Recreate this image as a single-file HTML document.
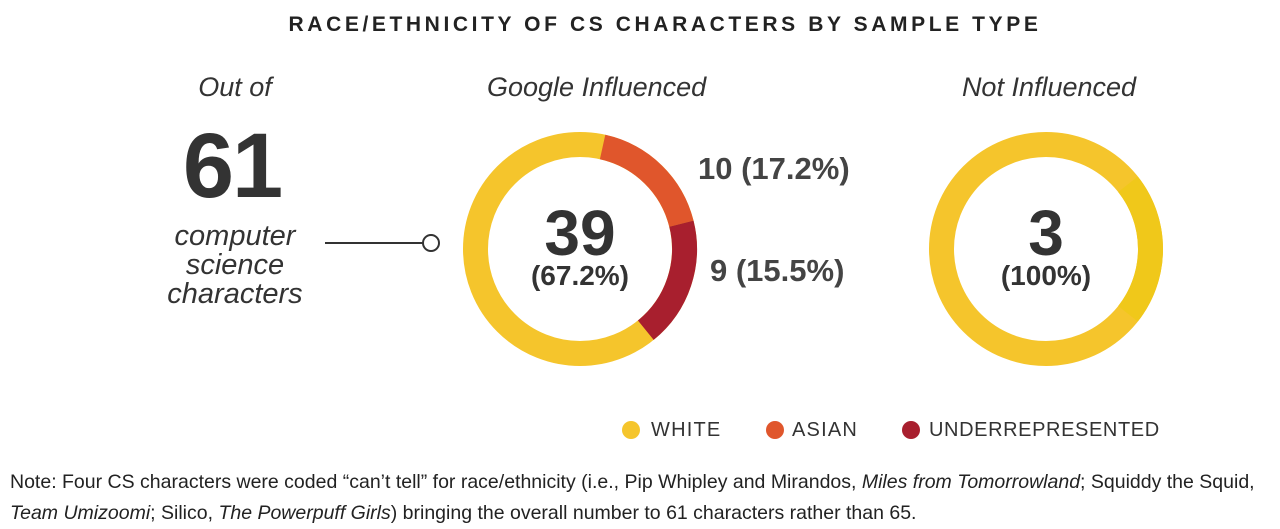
<!DOCTYPE html>
<html><head><style>
body{margin:0;width:1280px;height:527px;background:#fff;font-family:"Liberation Sans",sans-serif;position:relative;overflow:hidden;color:#333}
.t{position:absolute;white-space:nowrap}
</style></head><body>
<div class="t" style="left:0;width:1330px;text-align:center;top:13px;font-size:21px;font-weight:bold;letter-spacing:3.6px;color:#222">RACE/ETHNICITY OF CS CHARACTERS BY SAMPLE TYPE</div>
<div class="t" style="left:135px;width:200px;text-align:center;top:72px;font-size:27px;font-style:italic;color:#333">Out of</div>
<div class="t" style="left:132px;width:200px;text-align:center;top:114px;font-size:92px;font-weight:bold;color:#333;letter-spacing:-2px">61</div>
<div class="t" style="left:135px;width:200px;text-align:center;top:222px;font-size:29px;font-style:italic;line-height:29px;color:#333">computer<br>science<br>characters</div>
<div class="t" style="left:487px;width:200px;text-align:center;top:72px;font-size:27px;font-style:italic;color:#333">Google Influenced</div>
<div class="t" style="left:949px;width:200px;text-align:center;top:72px;font-size:27px;font-style:italic;color:#333">Not Influenced</div>
<svg width="1280" height="527" style="position:absolute;left:0;top:0">
<line x1="325" y1="243" x2="423" y2="243" stroke="#333" stroke-width="2"/>
<circle cx="431" cy="243" r="8" fill="#fff" stroke="#333" stroke-width="2"/>
<g transform="translate(580,249)">
<circle r="104.5" fill="none" stroke="#f5c52c" stroke-width="25"/>
<path d="M22.6,-102.0 A104.5,104.5 0 0 1 101.4,-25.3" fill="none" stroke="#e0562c" stroke-width="25"/>
<path d="M101.4,-25.3 A104.5,104.5 0 0 1 65.8,81.2" fill="none" stroke="#a81f2e" stroke-width="25"/>
</g>
<g transform="translate(1046,249)">
<circle r="104.5" fill="none" stroke="#f5c52c" stroke-width="25"/>
<path d="M82,-64.8 A104.5,104.5 0 0 1 82,64.8" fill="none" stroke="#f0c81a" stroke-width="25"/>
</g>
<circle cx="631" cy="430" r="9" fill="#f5c52c"/>
<circle cx="775" cy="430" r="9" fill="#e0562c"/>
<circle cx="911" cy="430" r="9" fill="#a81f2e"/>
</svg>
<div class="t" style="left:480px;width:200px;text-align:center;top:196px;font-size:64px;font-weight:bold;color:#333">39</div>
<div class="t" style="left:480px;width:200px;text-align:center;top:260px;font-size:28px;font-weight:bold;color:#333">(67.2%)</div>
<div class="t" style="left:946px;width:200px;text-align:center;top:196px;font-size:64px;font-weight:bold;color:#333">3</div>
<div class="t" style="left:946px;width:200px;text-align:center;top:260px;font-size:28px;font-weight:bold;color:#333">(100%)</div>
<div class="t" style="left:698px;top:151px;font-size:31px;font-weight:bold;color:#444">10 (17.2%)</div>
<div class="t" style="left:710px;top:253px;font-size:31px;font-weight:bold;color:#444">9 (15.5%)</div>
<div class="t" style="left:651px;top:419px;font-size:20px;letter-spacing:1.2px;color:#333">WHITE</div>
<div class="t" style="left:792px;top:419px;font-size:20px;letter-spacing:1.2px;color:#333">ASIAN</div>
<div class="t" style="left:929px;top:419px;font-size:20px;letter-spacing:0.6px;color:#333">UNDERREPRESENTED</div>
<div class="t" style="left:10px;top:467px;font-size:19.5px;line-height:31px;color:#222">Note: Four CS characters were coded “can’t tell” for race/ethnicity (i.e., Pip Whipley and Mirandos, <i>Miles from Tomorrowland</i>; Squiddy the Squid,<br><i>Team Umizoomi</i>; Silico, <i>The Powerpuff Girls</i>) bringing the overall number to 61 characters rather than 65.</div>
</body></html>
